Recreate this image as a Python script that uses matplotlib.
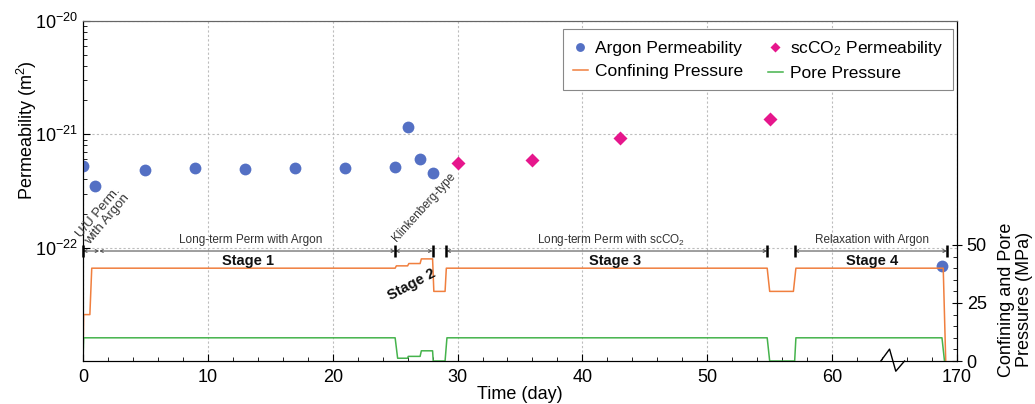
import numpy as np
import matplotlib
matplotlib.use('Agg')
import matplotlib.pyplot as plt
from matplotlib.ticker import FixedLocator, NullFormatter
import matplotlib.transforms as mtransforms

plt.rcParams['font.family'] = ['Liberation Sans', 'DejaVu Sans']
plt.rcParams['mathtext.fontset'] = 'custom'
plt.rcParams['mathtext.rm'] = 'Liberation Sans'
plt.rcParams['mathtext.it'] = 'Liberation Sans:italic'
plt.rcParams['mathtext.bf'] = 'Liberation Sans:bold'

# permeability data (x = plotted day; last argon point sits after the axis break, i.e. day 170)
argon_day = [0, 1, 5, 9, 13, 17, 21, 25, 26, 27, 28, 68.8]
argon_perm = [5.3e-22, 3.5e-22, 4.8e-22, 5.0e-22, 4.9e-22, 5.0e-22, 5.0e-22,
              5.1e-22, 1.17e-21, 6.0e-22, 4.6e-22, 6.9e-23]
co2_day = [30, 36, 43, 55]
co2_perm = [5.6e-22, 5.9e-22, 9.2e-22, 1.36e-21]

# pressure histories (MPa)
conf_t = [0, 0.05, 0.55, 0.7, 25.0, 25.1, 26.0, 26.1, 27.0, 27.1, 28.0, 28.1,
          29.0, 29.1, 54.8, 55.0, 56.9, 57.1, 68.9, 69.1]
conf_p = [0, 20, 20, 40, 40, 41, 41, 42, 42, 44, 44, 30,
          30, 40, 40, 30, 30, 40, 40, 0]
pore_t = [0, 0.05, 25.0, 25.2, 26.0, 26.05, 27.0, 27.1, 28.0, 28.05,
          29.0, 29.15, 54.8, 55.0, 57.0, 57.1, 68.8, 69.0]
pore_p = [0, 10, 10, 1.2, 1.2, 2, 2, 4.4, 4.4, 0,
          0, 10, 10, 0, 0, 10, 10, 0]

xticks = [0, 10, 20, 30, 40, 50, 60, 70]
xticklabels = ['0', '10', '20', '30', '40', '50', '60', '170']

blue = '#5470c4'
pink = '#e6168c'
orange = '#f07f3e'
green = '#45b34c'

fig = plt.figure(figsize=(10.35, 4.04), dpi=100)
ax = fig.add_axes([0.0802, 0.1064, 0.8444, 0.8416])
ax2 = ax.twinx()

ax.set_yscale('log')
ax.set_ylim(1e-23, 1e-20)
ax.set_xlim(0, 70)
ax2.set_ylim(0, 146.5)

h1, = ax.plot(argon_day, argon_perm, 'o', color=blue, ms=8.5, mec='none', zorder=5)
h2, = ax.plot(co2_day, co2_perm, 'D', color=pink, ms=7, mec='none', zorder=5)
h3, = ax2.plot(conf_t, conf_p, color=orange, lw=1.1)
h4, = ax2.plot(pore_t, pore_p, color=green, lw=1.1)

# ticks
ax.yaxis.set_major_locator(FixedLocator([1e-22, 1e-21, 1e-20]))
ax.set_yticklabels([r'10$^{-22}$', r'10$^{-21}$', r'10$^{-20}$'])
minors = [m * 10.0 ** e for e in (-22, -21) for m in range(2, 10)]
ax.yaxis.set_minor_locator(FixedLocator(minors))
ax.yaxis.set_minor_formatter(NullFormatter())
ax.set_xticks(xticks)
ax.set_xticklabels(xticklabels)
ax.set_xticks(np.arange(0, 69, 2), minor=True)
ax.tick_params(axis='both', which='major', direction='in', length=5, labelsize=13)
ax.tick_params(axis='x', which='major', pad=6)
ax.tick_params(axis='both', which='minor', direction='in', length=3)
ax.tick_params(axis='y', right=False)
ax.tick_params(axis='x', top=False)

ax2.set_yticks([0, 25, 50])
ax2.set_yticks(np.arange(5, 50, 5), minor=True)
ax2.tick_params(axis='y', which='major', direction='inout', length=7, labelsize=13)
ax2.tick_params(axis='y', which='minor', direction='in', length=3)

ax.grid(True, which='major', color='#bdbdbd', ls=(0, (2, 2)), lw=0.8)

for a in (ax, ax2):
    a.spines['top'].set_color('#666666')
    a.spines['top'].set_linewidth(0.8)

ax.set_xlabel('Time (day)', fontsize=13, labelpad=0)
ax.set_ylabel('Permeability (m$^2$)', fontsize=13)
ax.yaxis.set_label_coords(-0.05, 0.68)
ax2.set_ylabel('Confining and Pore\nPressures (MPa)', fontsize=13, linespacing=1.05)
ax2.yaxis.set_label_coords(1.047, 0.18)

# stage brackets
yb = 47.4
segs = [(0, 1.3), (1.3, 25), (25, 28), (29.1, 54.8), (57.0, 69.2)]
for a0, a1 in segs:
    ax2.annotate('', xy=(a0, yb), xytext=(a1, yb),
                 arrowprops=dict(arrowstyle='<->', color='#555555', lw=0.8,
                                 mutation_scale=5, shrinkA=0, shrinkB=0))
bars = [0, 25, 28, 29.1, 54.8, 57.0, 69.2]
ax2.plot(bars, [yb] * len(bars), ls='none', marker='|', ms=9, mew=1.8,
         color='black', clip_on=False, zorder=6)

small = dict(fontsize=8.5, color='#333333')
ax2.text(13.4, 52.3, 'Long-term Perm with Argon', ha='center', va='center', **small)
ax2.text(42.3, 52.3, 'Long-term Perm with scCO$_2$', ha='center', va='center', **small)
ax2.text(63.2, 52.3, 'Relaxation with Argon', ha='center', va='center', **small)
ax2.text(25.3, 50.5, 'Klinkenberg-type', rotation=48, rotation_mode='anchor',
         ha='left', va='bottom', **small)
ax2.text(0.75, 49.0, 'U/U Perm.\nwith Argon', rotation=50, rotation_mode='anchor',
         ha='left', va='bottom', ma='center', linespacing=1.0,
         fontsize=9.5, color='#333333')

bold = dict(fontsize=10.5, fontweight='bold', color='#111111')
ax2.text(13.2, 43.2, 'Stage 1', ha='center', va='center', **bold)
ax2.text(42.6, 43.2, 'Stage 3', ha='center', va='center', **bold)
ax2.text(63.2, 43.2, 'Stage 4', ha='center', va='center', **bold)
ax2.text(26.3, 33.0, 'Stage 2', ha='center', va='center', rotation=28, **bold)

# axis break symbol
trans = mtransforms.blended_transform_factory(ax.transData, ax.transAxes)
ax.plot([64.1, 65.6], [0, 0], color='white', lw=2, transform=trans, clip_on=False, zorder=7)
ax.plot([63.9, 64.6, 65.1, 65.8], [0, 0.035, -0.03, 0], color='black', lw=1,
        transform=trans, clip_on=False, zorder=8)

leg = ax2.legend([h1, h3, h2, h4],
                 ['Argon Permeability', 'Confining Pressure',
                  'scCO$_2$ Permeability', 'Pore Pressure'],
                 ncol=2, loc='upper right', bbox_to_anchor=(0.9954, 0.976),
                 borderaxespad=0,
                 fontsize=12.5, fancybox=False, framealpha=1, edgecolor='#888888',
                 handlelength=0.9, handletextpad=0.4, columnspacing=1.4,
                 markerscale=0.75, borderpad=0.55, labelspacing=0.45)
leg.get_frame().set_linewidth(0.8)

fig.savefig('out.png', dpi=100)
